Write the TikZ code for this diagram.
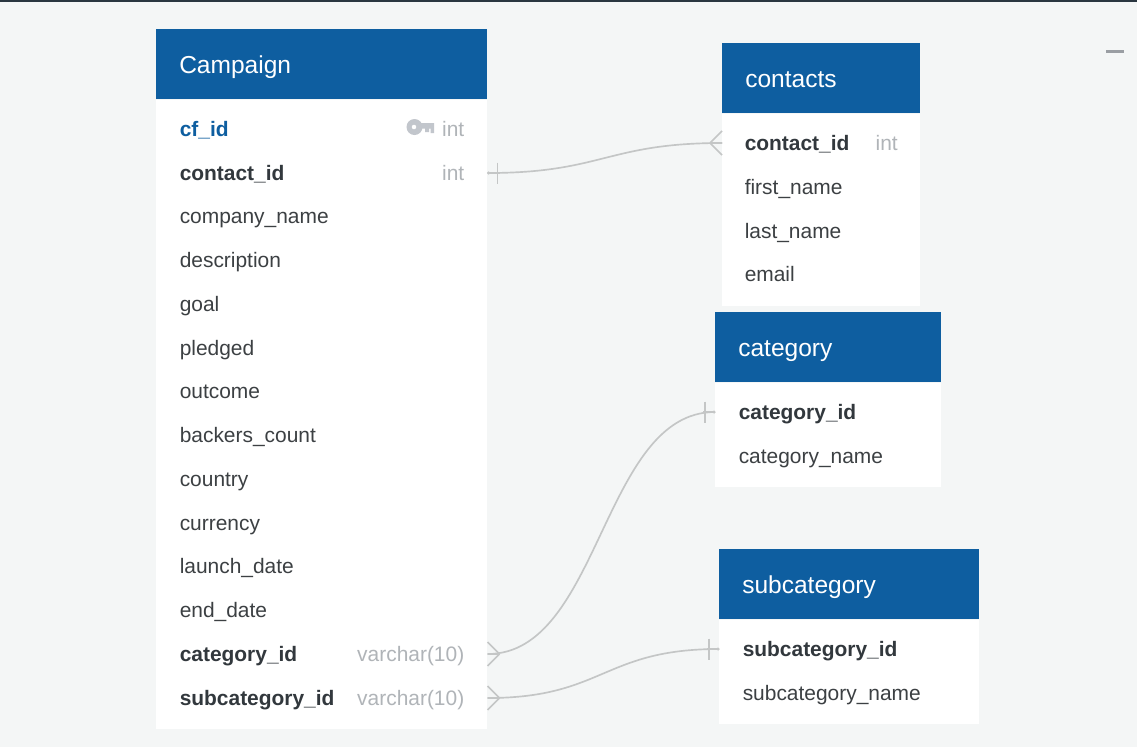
\documentclass[tikz,border=0pt]{standalone}
\usepackage{fontspec}
\setmainfont{Liberation Sans}
\usetikzlibrary{positioning}
\definecolor{page}{HTML}{F4F6F6}
\definecolor{topline}{HTML}{2A3640}
\definecolor{headblue}{HTML}{0E5EA0}
\definecolor{ink}{HTML}{3C4043}
\definecolor{inkbold}{HTML}{32383D}
\definecolor{typegrey}{HTML}{B0B4B8}
\definecolor{keygrey}{HTML}{C2C6CC}
\definecolor{linkgrey}{HTML}{C4C6C6}
\definecolor{minusgrey}{HTML}{9A9EA3}
\tikzset{tblhead/.style={fill=headblue,text=white,anchor=north west,inner xsep=17.25pt,inner ysep=0pt,
 minimum height=52.5pt,text width=#1*.75pt-34.5pt,align=left,text height=16.25pt,text depth=2.75pt,font=\fontsize{18.4}{20}\selectfont},
 tblbody/.style={fill=white,anchor=north west,inner sep=0pt,minimum width=#1*.75pt},
 fld/.style={anchor=west,inner sep=0pt,text=ink,text height=12pt,text depth=1.5pt,font=\fontsize{15.7}{18}\selectfont},
 fldkey/.style={fld,text=inkbold,font=\fontsize{15.7}{18}\selectfont\bfseries},
 fldtype/.style={fld,anchor=east,text=typegrey},
 link/.style={draw=linkgrey,line width=1.25pt},
 crowfoot/.pic={\draw[link] (12,0)--(0,-12) (12,0)--(0,0) (12,0)--(0,12);},
 onebar/.pic={\draw[link] (0,0)--(12,0) (10,-10.5)--(10,10.5);\fill[linkgrey] (1,0) circle (1.3pt);},
 keyicon/.pic={\fill[keygrey,even odd rule] (7.5,8) circle (8) (7,8) circle (2.4);
  \fill[keygrey] (13,4) rectangle (27,9.5) (18,9.5) rectangle (22,13) (23.5,9.5) rectangle (27,14);}}
\begin{document}
\begin{tikzpicture}[x=.75pt,y=-.75pt]
\fill[page] (0,0) rectangle (1137,747);
\fill[topline] (0,0) rectangle (1137,1.5);
\node[fill=minusgrey,inner sep=0pt,minimum width=13.5pt,minimum height=2.25pt] (minus) at (1115,51) {};
% campaign table
\node[tblhead=331] (camp) at (156,29) {Campaign};
\node[tblbody=331,minimum height=472pt] (campb) at (camp.south west) {};
\node[fldkey,text=headblue] (c1) at (179.5,129) {cf\_id};
\node[fldkey] (c2) at (179.5,173) {contact\_id};
\node[fld] (c3) at (179.5,216.5) {company\_name};
\node[fld] (c4) at (179.5,260) {description};
\node[fld] (c5) at (179.5,304) {goal};
\node[fld] (c6) at (179.5,348) {pledged};
\node[fld] (c7) at (179.5,391) {outcome};
\node[fld] (c8) at (179.5,435) {backers\_count};
\node[fld] (c9) at (179.5,479) {country};
\node[fld] (c10) at (179.5,523) {currency};
\node[fld] (c11) at (179.5,566) {launch\_date};
\node[fld] (c12) at (179.5,610) {end\_date};
\node[fldkey] (c13) at (179.5,654) {category\_id};
\node[fldkey] (c14) at (179.5,698) {subcategory\_id};
\node[fldtype] (t1) at (464.5,129) {int};
\node[fldtype] (t2) at (464.5,173) {int};
\node[fldtype] (t13) at (464.5,654) {varchar(10)};
\node[fldtype] (t14) at (464.5,698) {varchar(10)};
\pic at (407,119) {keyicon};
% contacts table
\node[tblhead=198] (cont) at (722,43) {contacts};
\node[tblbody=198,minimum height=144pt] (contb) at (cont.south west) {};
\node[fldkey] (n1) at (744.5,143) {contact\_id};
\node[fld] (n2) at (744.5,187) {first\_name};
\node[fld] (n3) at (744.5,231) {last\_name};
\node[fld] (n4) at (744.5,274) {email};
\node[fldtype] (nt1) at (898,143) {int};
% category table
\node[tblhead=226] (cat) at (715,312) {category};
\node[tblbody=226,minimum height=78pt] (catb) at (cat.south west) {};
\node[fldkey] (k1) at (738.5,412) {category\_id};
\node[fld] (k2) at (738.5,456) {category\_name};
% subcategory table
\node[tblhead=260] (sub) at (719,549) {subcategory};
\node[tblbody=260,minimum height=78pt] (subb) at (sub.south west) {};
\node[fldkey] (s1) at (742.5,649) {subcategory\_id};
\node[fld] (s2) at (742.5,693) {subcategory\_name};
% relations
\draw[link] (campb.east |- c2.center) .. controls +(115,0) and +(-115,0) .. (contb.west |- n1.center);
\draw[link] (campb.east |- c13.center) .. controls +(113,0) and +(-113,0) .. (catb.west |- k1.center);
\draw[link] (campb.east |- c14.center) .. controls +(116,0) and +(-116,0) .. (subb.west |- s1.center);
\pic at (campb.east |- c2.center) {onebar};
\pic[xscale=-1] at (contb.west |- n1.center) {crowfoot};
\pic at (campb.east |- c13.center) {crowfoot};
\pic[xscale=-1] at (catb.west |- k1.center) {onebar};
\pic at (campb.east |- c14.center) {crowfoot};
\pic[xscale=-1] at (subb.west |- s1.center) {onebar};
\end{tikzpicture}
\end{document}
